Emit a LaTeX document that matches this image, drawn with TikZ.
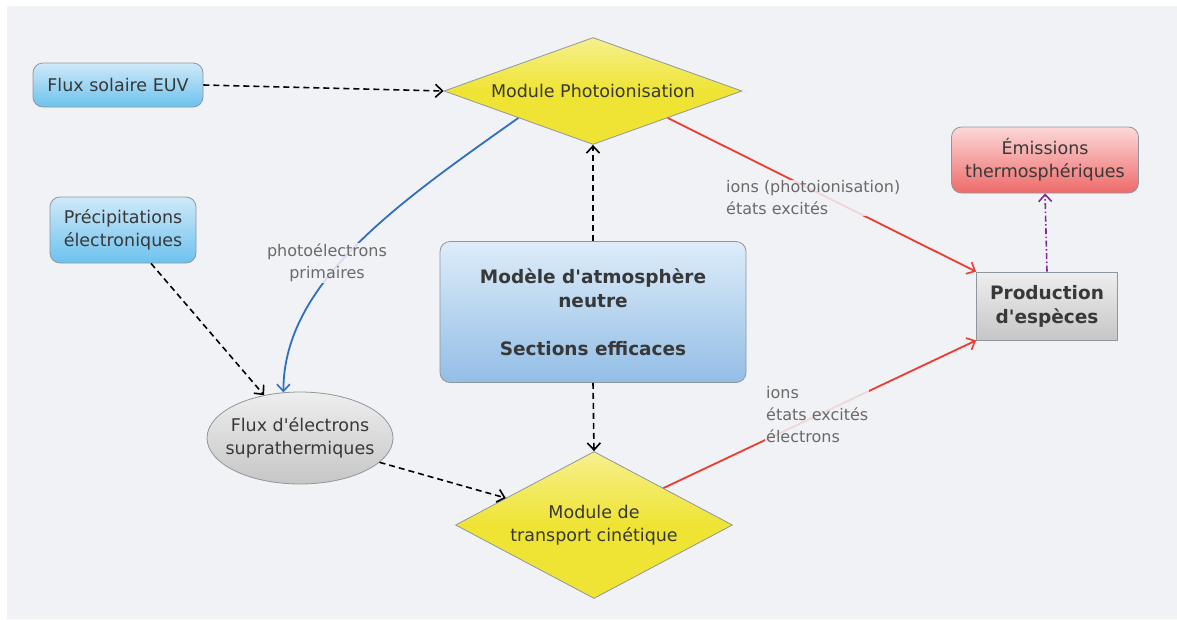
\documentclass[tikz,border=0pt]{standalone}
\usepackage{fontspec}
\setmainfont{DejaVu Sans}
\usetikzlibrary{shapes.geometric,arrows.meta}
\definecolor{bgcol}{HTML}{F1F2F6}
\definecolor{edgegrey}{HTML}{8E979E}
\definecolor{nodetext}{HTML}{383838}
\definecolor{labeltext}{HTML}{6A6A6A}
\definecolor{bluetop}{HTML}{CFE9F9}
\definecolor{bluebot}{HTML}{6CC2EE}
\definecolor{modeltop}{HTML}{DDECF9}
\definecolor{modelbot}{HTML}{93BEE6}
\definecolor{yellowtop}{HTML}{F6F08E}
\definecolor{yellowbot}{HTML}{EFE434}
\definecolor{greytop}{HTML}{EEEEEE}
\definecolor{greybot}{HTML}{C6C6C6}
\definecolor{redtop}{HTML}{FCD8D8}
\definecolor{redbot}{HTML}{EE6A6A}
\definecolor{redline}{HTML}{EF3B2D}
\definecolor{blueline}{HTML}{2F6EC0}
\definecolor{purpleline}{HTML}{7E2C8E}
\def\normalsz{\fontsize{17.5}{23}\selectfont}
\def\boldsz{\fontsize{18.5}{24}\selectfont\bfseries}
\def\labelsz{\fontsize{16}{22}\selectfont}
\def\q{\textquotesingle}
\tikzset{
  box/.style={draw=edgegrey, line width=0.8pt, text=nodetext, font=\normalsz, align=center, inner sep=0pt},
  bluebox/.style={box, rounded corners=10pt, top color=bluetop, bottom color=bluebot},
  modelbox/.style={box, rounded corners=10pt, top color=modeltop, bottom color=modelbot, font=\boldsz},
  yellowdiamond/.style={box, diamond, shape aspect=2.5, top color=yellowtop, bottom color=yellowbot, middle color=yellowbot},
  greyellipse/.style={box, ellipse, inner xsep=-10pt, top color=greytop, bottom color=greybot},
  prodbox/.style={box, top color=greytop, bottom color=greybot, font=\boldsz},
  redbox/.style={box, rounded corners=10pt, top color=redtop, bottom color=redbot},
  linklabel/.style={text=labeltext, font=\labelsz, align=left, inner sep=1pt, fill=bgcol, fill opacity=0.85, text opacity=1},
  tip/.style={-{Straight Barb[length=7pt,width=13pt,line width=1.6pt]}},
  dasharrow/.style={tip, draw=black, line width=1.6pt, dash pattern=on 6pt off 4pt},
  redarrow/.style={tip, draw=redline, line width=1.8pt},
}
\begin{document}
\begin{tikzpicture}[x=1pt,y=-1pt]
  \useasboundingbox (0,0) rectangle (1177,619);
  \fill[white] (0,0) rectangle (1177,619);
  \fill[bgcol] (7,6) rectangle (1177,619);

  % sources
  \node[bluebox, minimum width=170pt, minimum height=44pt] (euv) at (118,85) {Flux solaire EUV};
  \node[bluebox, minimum width=146pt, minimum height=66pt] (precip) at (123,230) {Précipitations\\électroniques};

  % modules
  \node[yellowdiamond, minimum width=298pt, minimum height=107pt] (photo) at (593,91) {Module Photoionisation};
  \node[yellowdiamond, minimum width=277pt, minimum height=147pt] (transport) at (594,525) {Module de\\transport cinétique};
  \node[modelbox, minimum width=306pt, minimum height=141pt] (model) at (593,312) {Modèle d\q atmosphère\\neutre\\[24pt]Sections efficaces};
  \node[greyellipse, minimum width=186pt, minimum height=92pt] (supra) at (300,438) {Flux d\q électrons\\suprathermiques};

  % outputs
  \node[prodbox, minimum width=141pt, minimum height=68pt] (prod) at (1047,306) {Production\\d\q espèces};
  \node[redbox, minimum width=187pt, minimum height=66pt] (emis) at (1045,160) {Émissions\\thermosphériques};

  % dashed inputs
  \draw[dasharrow] (euv.east) -- (photo.west);
  \draw[dasharrow] (precip.-50) -- (supra.130);
  \draw[dasharrow] (supra.-17) -- (transport.163);
  \draw[dasharrow] (model.north) -- (photo.south);
  \draw[dasharrow] (model.south) -- (transport.north);

  % photoelectrons
  \draw[tip, draw=blueline, line width=1.8pt] (photo.south west) .. controls +(-120,85) and +(0,-110) .. (supra.110);
  \node[linklabel, align=center] (primlabel) at (327,263) {photoélectrons\\primaires};

  % production
  \draw[redarrow] (photo.south east) -- (prod.north west);
  \draw[redarrow] (transport.north east) -- (prod.south west);
  \node[linklabel, anchor=west] (photolabel) at (725,198) {ions (photoionisation)\\états excités};
  \node[linklabel, anchor=west] (translabel) at (765,415) {ions\\états excités\\électrons};

  \draw[tip, draw=purpleline, line width=1.6pt, dash pattern=on 6pt off 2.5pt on 1.5pt off 2.5pt] (prod.north) -- (emis.south);
\end{tikzpicture}
\end{document}
